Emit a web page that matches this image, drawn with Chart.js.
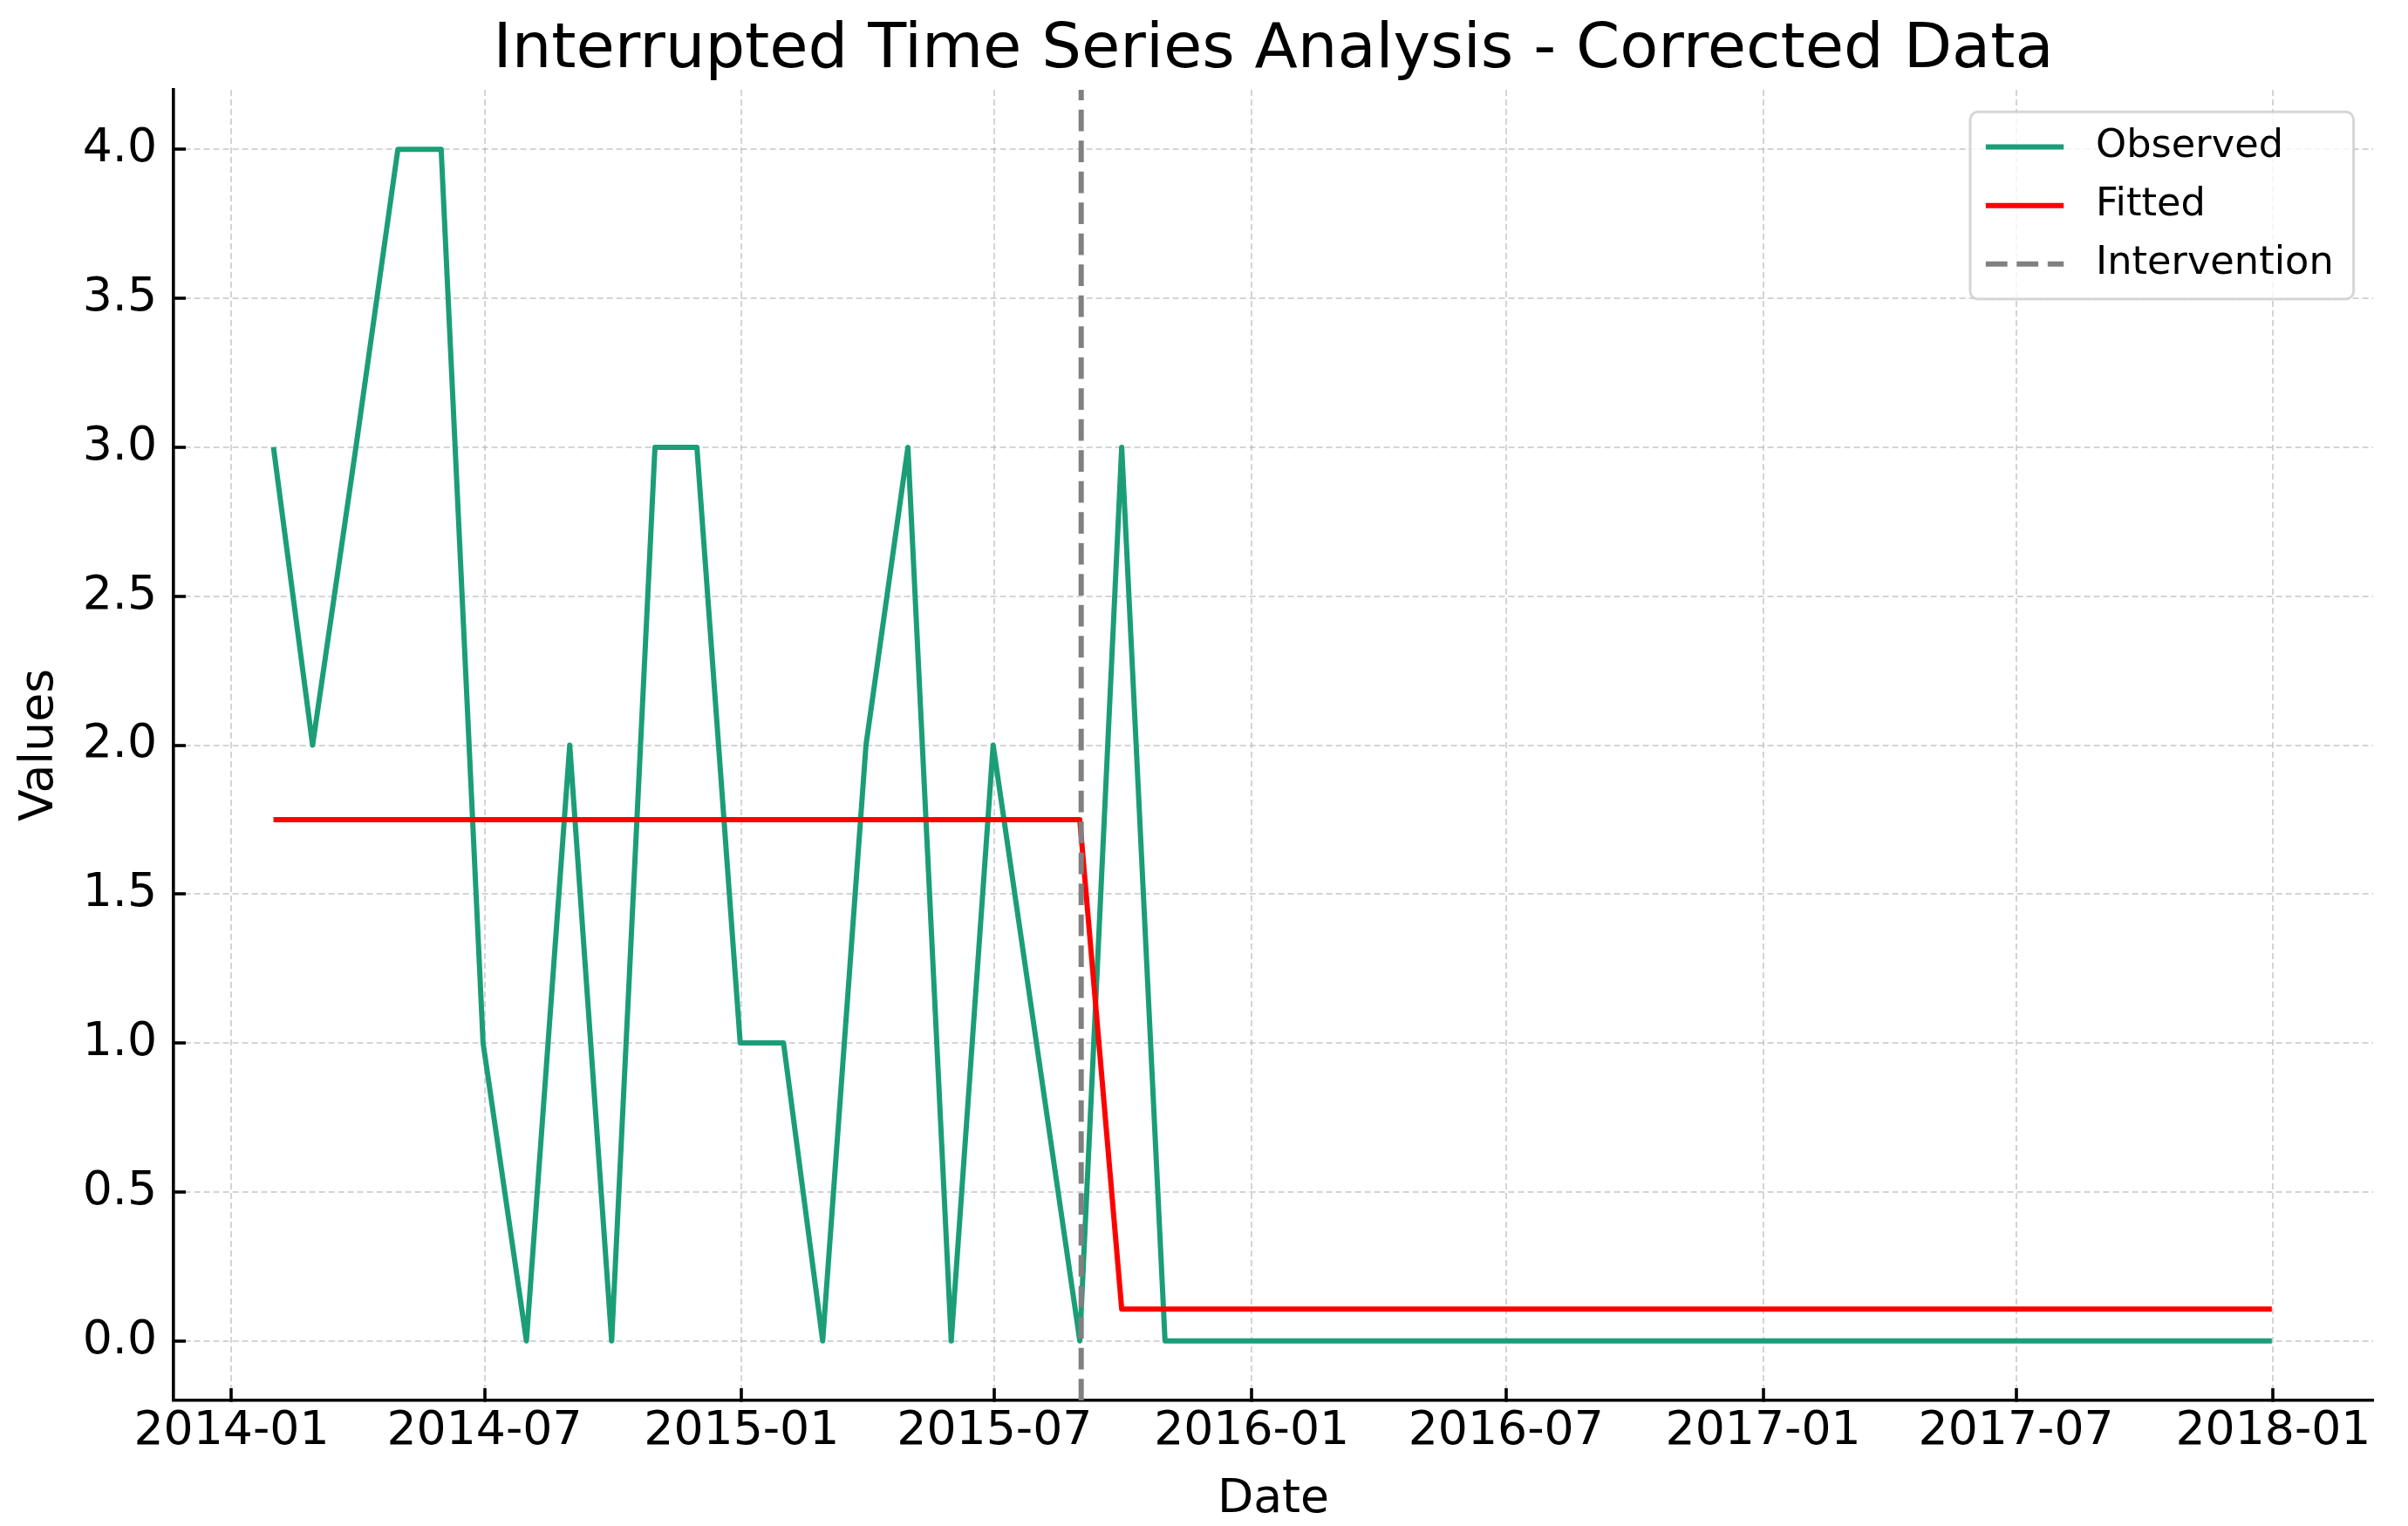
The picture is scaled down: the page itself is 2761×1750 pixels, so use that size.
<!DOCTYPE html>
<html>
<head>
<meta charset="utf-8">
<script src="https://cdn.jsdelivr.net/npm/chart.js@4.4.1/dist/chart.umd.min.js"></script>
<style>
  html, body { margin: 0; padding: 0; background: #ffffff; overflow: hidden; }
  #wrap { width: 2761px; height: 1750px; }
  canvas { display: block; }
</style>
</head>
<body>
<div id="wrap"><canvas id="chart" width="2761" height="1750" style="width:2761px;height:1750px"></canvas></div>
<script>
// ---------------- data ----------------
const dates = [
  '2014-01-31','2014-02-28','2014-03-31','2014-04-30','2014-05-31','2014-06-30',
  '2014-07-31','2014-08-31','2014-09-30','2014-10-31','2014-11-30','2014-12-31',
  '2015-01-31','2015-02-28','2015-03-31','2015-04-30','2015-05-31','2015-06-30',
  '2015-07-31','2015-08-31','2015-09-30','2015-10-31','2015-11-30','2015-12-31',
  '2016-01-31','2016-02-29','2016-03-31','2016-04-30','2016-05-31','2016-06-30',
  '2016-07-31','2016-08-31','2016-09-30','2016-10-31','2016-11-30','2016-12-31',
  '2017-01-31','2017-02-28','2017-03-31','2017-04-30','2017-05-31','2017-06-30',
  '2017-07-31','2017-08-31','2017-09-30','2017-10-31','2017-11-30','2017-12-31'
];
const observed = [
  3, 2, 3, 4, 4, 1, 0, 2, 0, 3, 3, 1,
  1, 0, 2, 3, 0, 2, 1, 0, 3, 0, 0, 0,
  0, 0, 0, 0, 0, 0, 0, 0, 0, 0, 0, 0,
  0, 0, 0, 0, 0, 0, 0, 0, 0, 0, 0, 0
];
const fitted = [
  1.75, 1.75, 1.75, 1.75, 1.75, 1.75, 1.75, 1.75, 1.75, 1.75, 1.75, 1.75,
  1.75, 1.75, 1.75, 1.75, 1.75, 1.75, 1.75, 1.75, 0.107, 0.107, 0.107, 0.107,
  0.107, 0.107, 0.107, 0.107, 0.107, 0.107, 0.107, 0.107, 0.107, 0.107, 0.107, 0.107,
  0.107, 0.107, 0.107, 0.107, 0.107, 0.107, 0.107, 0.107, 0.107, 0.107, 0.107, 0.107
];
const interventionDate = '2015-09-01';
const xTickLabels = ['2014-01','2014-07','2015-01','2015-07','2016-01','2016-07','2017-01','2017-07','2018-01'];
const yTicks = [0.0, 0.5, 1.0, 1.5, 2.0, 2.5, 3.0, 3.5, 4.0];
const xLimits = ['2013-11-20T12:00:00Z', '2018-03-13T12:00:00Z'];
const yLimits = [-0.2, 4.2];
const seriesLabels = ['Observed', 'Fitted', 'Intervention'];

// ---------------- helpers ----------------
const toMs = s => Date.parse(s.length === 7 ? s + '-01T00:00:00Z' : (s.length === 10 ? s + 'T00:00:00Z' : s));
const FONT = '"DejaVu Sans", "Liberation Sans", sans-serif';
const PT = 4.47; // pixels per point in the reference

Chart.defaults.font.family = FONT;
Chart.defaults.color = '#000000';

// matplotlib-like legend drawn inside the plot area, top-right
const mplLegend = {
  id: 'mplLegend',
  afterDraw(chart) {
    const { ctx, chartArea } = chart;
    const fs = 10 * PT;
    ctx.save();
    ctx.font = `${fs}px ${FONT}`;
    const items = chart.data.datasets.map(ds => ({
      label: ds.label, color: ds.borderColor, width: ds.borderWidth, dash: ds.borderDash || []
    }));
    const padX = 0.4 * fs + 3, padY = 0.4 * fs, handleLen = 2.0 * fs, handlePad = 0.8 * fs, spacing = 0.5 * fs, rowH = fs;
    const maxW = Math.max(...items.map(it => ctx.measureText(it.label).width));
    const w = 2 * padX + handleLen + handlePad + maxW;
    const h = 2 * padY + items.length * rowH + (items.length - 1) * spacing;
    const right = chartArea.right - 0.5 * fs;
    const top = chartArea.top + 0.5 * fs + 3;
    const left = right - w;
    const r = 0.2 * fs;
    ctx.beginPath();
    ctx.moveTo(left + r, top);
    ctx.lineTo(left + w - r, top);
    ctx.arcTo(left + w, top, left + w, top + r, r);
    ctx.lineTo(left + w, top + h - r);
    ctx.arcTo(left + w, top + h, left + w - r, top + h, r);
    ctx.lineTo(left + r, top + h);
    ctx.arcTo(left, top + h, left, top + h - r, r);
    ctx.lineTo(left, top + r);
    ctx.arcTo(left, top, left + r, top, r);
    ctx.closePath();
    ctx.fillStyle = 'rgba(255,255,255,0.8)';
    ctx.fill();
    ctx.lineWidth = 3;
    ctx.strokeStyle = 'rgba(204,204,204,0.8)';
    ctx.stroke();
    items.forEach((it, i) => {
      const cy = top + padY + rowH / 2 + i * (rowH + spacing);
      ctx.beginPath();
      ctx.setLineDash(it.dash);
      ctx.lineWidth = it.width;
      ctx.strokeStyle = it.color;
      ctx.lineCap = 'butt';
      ctx.moveTo(left + padX - 3, cy);
      ctx.lineTo(left + padX - 3 + handleLen, cy);
      ctx.stroke();
      ctx.setLineDash([]);
      ctx.fillStyle = '#000000';
      ctx.textAlign = 'left';
      ctx.textBaseline = 'middle';
      ctx.fillText(it.label, left + padX + handleLen + handlePad - 2, cy);
    });
    ctx.restore();
  }
};

const obsPoints = observed.map((v, i) => ({ x: toMs(dates[i]), y: v }));
const fitPoints = fitted.map((v, i) => ({ x: toMs(dates[i]), y: v }));
const intPoints = yLimits.map(v => ({ x: toMs(interventionDate), y: v }));

const gridCommon = {
  color: 'rgba(176,176,176,0.55)',
  lineWidth: 2,
  drawTicks: true,
  tickLength: -14,
  tickColor: '#000000',
  tickWidth: 3.6
};

new Chart(document.getElementById('chart'), {
  type: 'line',
  data: {
    datasets: [
      { label: seriesLabels[0], data: obsPoints, borderColor: '#1b9e77', borderWidth: 6,
        pointRadius: 0, tension: 0, borderJoinStyle: 'round', fill: false, order: 3 },
      { label: seriesLabels[1], data: fitPoints, borderColor: '#ff0000', borderWidth: 6,
        pointRadius: 0, tension: 0, borderJoinStyle: 'round', fill: false, order: 2 },
      { label: seriesLabels[2], data: intPoints, borderColor: '#808080', borderWidth: 6,
        borderDash: [24.8, 10.7], pointRadius: 0, fill: false, order: 1 }
    ]
  },
  options: {
    responsive: false,
    animation: false,
    devicePixelRatio: 1,
    events: [],
    layout: { padding: { left: 0, right: 40, top: 0, bottom: 0 } },
    plugins: {
      legend: { display: false },
      tooltip: { enabled: false },
      title: {
        display: true,
        fullSize: false,
        text: 'Interrupted Time Series Analysis - Corrected Data',
        color: '#000000',
        font: { family: FONT, size: 72, weight: 'normal' },
        padding: { top: 15, bottom: 1.6 }
      }
    },
    scales: {
      x: {
        type: 'linear',
        position: 'bottom',
        min: toMs(xLimits[0]),
        max: toMs(xLimits[1]),
        afterBuildTicks: scale => { scale.ticks = xTickLabels.map(l => ({ value: toMs(l) })); },
        afterFit: scale => { scale.height = 144; },
        ticks: {
          autoSkip: false, maxRotation: 0, minRotation: 0, padding: 18,
          color: '#000000',
          font: { family: FONT, size: 12 * PT },
          callback: (value, index) => xTickLabels[index]
        },
        grid: gridCommon,
        border: { display: true, color: '#000000', width: 3.6, dash: [7, 4] },
        title: {
          display: true, text: 'Date', color: '#000000',
          font: { family: FONT, size: 12 * PT }, padding: { top: 0, bottom: -2 }
        }
      },
      y: {
        type: 'linear',
        position: 'left',
        min: yLimits[0],
        max: yLimits[1],
        afterBuildTicks: scale => { scale.ticks = yTicks.map(v => ({ value: v })); },
        afterFit: scale => { scale.width = 199; },
        ticks: {
          padding: 33,
          color: '#000000',
          font: { family: FONT, size: 12 * PT },
          callback: value => Number(value).toFixed(1)
        },
        grid: gridCommon,
        border: { display: true, color: '#000000', width: 3.6, dash: [7, 4] },
        title: {
          display: true, text: 'Values', color: '#000000',
          font: { family: FONT, size: 12 * PT }, padding: { top: 14, bottom: 0 }
        }
      }
    }
  },
  plugins: [mplLegend]
});
</script>
</body>
</html>
